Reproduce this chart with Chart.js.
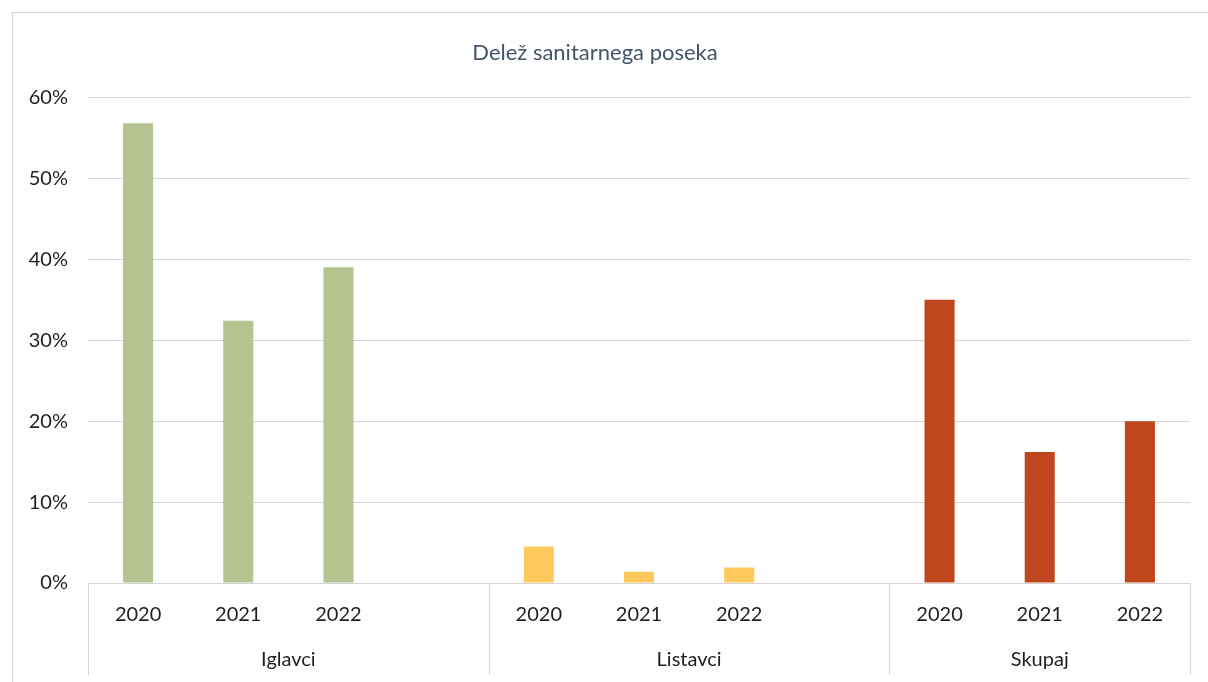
<!DOCTYPE html>
<html>
<head>
<meta charset="utf-8">
<script src="https://cdn.jsdelivr.net/npm/chart.js@4/dist/chart.umd.min.js"></script>
<style>
  html, body { margin: 0; padding: 0; background: #ffffff; }
  #okvir { width: 1208px; height: 682px; position: relative; }
</style>
</head>
<body>
<div id="okvir"><canvas id="posekChart"></canvas></div>
<script>
// Podatki (odčitani s slike)
const leta = ['2020', '2021', '2022'];
const skupine = ['Iglavci', 'Listavci', 'Skupaj'];
const iglavci = [56.8, 32.4, 39.0];
const listavci = [4.5, 1.4, 1.9];
const skupaj = [35.0, 16.2, 20.0];
const barve = ['#b4c38f', '#ffc95c', '#c0461e'];
const yTicks = [0, 10, 20, 30, 40, 50, 60];

// 11 mest na osi x: tri skupine po tri leta, med njimi prazno mesto
const oznake = [...leta, '', ...leta, '', ...leta];
const vrednosti = [...iglavci, null, ...listavci, null, ...skupaj];
const barveStolpcev = [
    ...leta.map(() => barve[0]), null,
    ...leta.map(() => barve[1]), null,
    ...leta.map(() => barve[2])
];
const zacetkiSkupin = [0, 4, 8]; // indeks prvega mesta vsake skupine

const pisava = 'Lato, "Open Sans", sans-serif';
const sivaCrta = '#d4d4d4';

// okvir + oznake skupin in ločilne črte pod osjo x
const skupinePlugin = {
    id: 'skupine',
    beforeDraw(chart) {
        const c = chart.ctx;
        c.save();
        c.strokeStyle = sivaCrta;
        c.lineWidth = 1;
        c.strokeRect(12.5, 12.5, 1210, 700);
        c.restore();
    },
    afterDraw(chart) {
        const c = chart.ctx;
        const x = chart.scales.x;
        const y = chart.scales.y;
        const sirina = x.getPixelForValue(1) - x.getPixelForValue(0);
        const meje = zacetkiSkupin.map(i => x.getPixelForValue(i) - sirina / 2);
        meje.push(x.getPixelForValue(oznake.length - 1) + sirina / 2);

        c.save();
        c.strokeStyle = sivaCrta;
        c.lineWidth = 1;
        meje.forEach(m => {
            const px = Math.round(m) + 0.5;
            c.beginPath();
            c.moveTo(px, y.bottom);
            c.lineTo(px, 675);
            c.stroke();
        });

        c.fillStyle = '#1f1f1f';
        c.font = '20px ' + pisava;
        c.textAlign = 'center';
        c.textBaseline = 'middle';
        skupine.forEach((s, i) => {
            c.fillText(s, (meje[i] + meje[i + 1]) / 2, 660);
        });
        c.restore();
    }
};

new Chart(document.getElementById('posekChart'), {
    type: 'bar',
    data: {
        labels: oznake,
        datasets: [{
            data: vrednosti,
            backgroundColor: barveStolpcev,
            borderWidth: 0,
            barPercentage: 0.3,
            categoryPercentage: 1.0
        }]
    },
    options: {
        responsive: true,
        maintainAspectRatio: false,
        animation: false,
        layout: { padding: { left: 0, right: 18, top: 0, bottom: 0 } },
        plugins: {
            legend: { display: false },
            tooltip: { enabled: false },
            title: {
                display: true,
                text: 'Delež sanitarnega poseka',
                color: '#44546a',
                font: { family: pisava, size: 22, weight: 'normal' },
                padding: { top: 40, bottom: 31 }
            }
        },
        scales: {
            x: {
                grid: { display: false },
                border: { display: false },
                ticks: {
                    color: '#1f1f1f',
                    font: { family: pisava, size: 20 },
                    padding: 12,
                    maxRotation: 0,
                    autoSkip: false
                },
                afterFit(scale) { scale.height = 99; }
            },
            y: {
                min: 0,
                max: 60,
                afterBuildTicks(scale) { scale.ticks = yTicks.map(v => ({ value: v })); },
                grid: { color: sivaCrta, lineWidth: 1, drawTicks: false },
                border: { display: false },
                ticks: {
                    color: '#1f1f1f',
                    font: { family: pisava, size: 20 },
                    padding: 20,
                    callback: v => v + '%'
                },
                afterFit(scale) { scale.width = 88; }
            }
        }
    },
    plugins: [skupinePlugin]
});
</script>
</body>
</html>
